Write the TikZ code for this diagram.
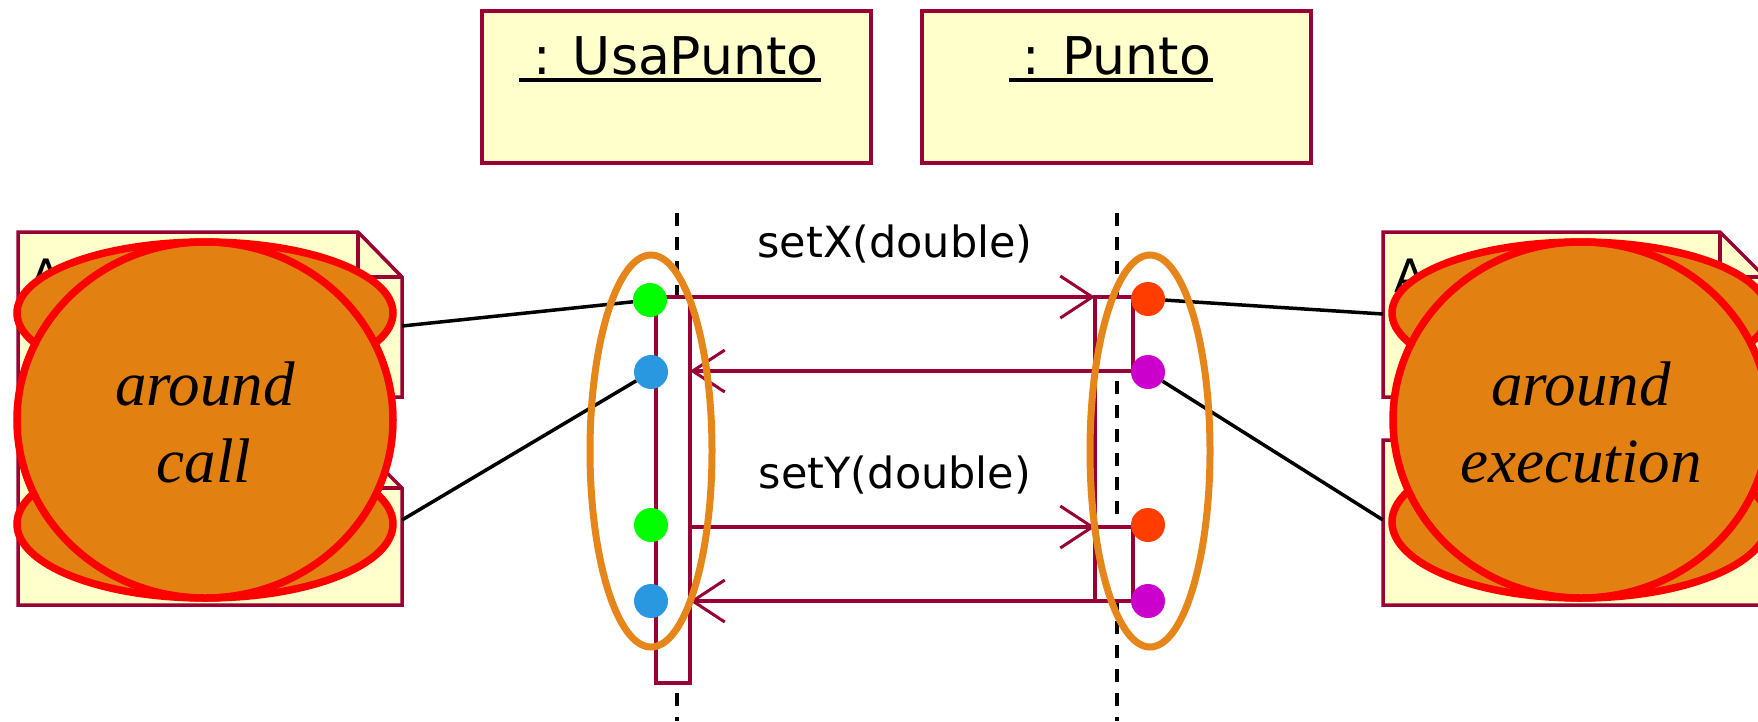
\documentclass[tikz,border=0pt]{standalone}
\usepackage{fontspec}
\setmainfont{Liberation Serif}
\newfontfamily\umlfont{DejaVu Sans}
\usetikzlibrary{arrows.meta,shapes.geometric}
\definecolor{umlred}{HTML}{990033}
\definecolor{noteyel}{HTML}{FFFFCC}
\definecolor{orfill}{HTML}{E38012}
\definecolor{orline}{HTML}{E6861A}
\definecolor{dgreen}{HTML}{00FF00}
\definecolor{dblue}{HTML}{2A98E0}
\definecolor{dred}{HTML}{FF3D00}
\definecolor{dmag}{HTML}{CC00CC}
\begin{document}
\begin{tikzpicture}[x=1pt,y=-1pt,
  objbox/.style={draw=umlred, fill=noteyel, line width=3.5pt, inner sep=0pt, outer sep=0pt, anchor=north west},
  notebox/.style={draw=umlred, fill=noteyel, line width=3.5pt, line join=miter},
  foldline/.style={draw=umlred, line width=3.5pt},
  link/.style={draw=black, line width=3.5pt},
  lifeline/.style={draw=black, line width=4pt, dash pattern=on 13pt off 11pt},
  actbox/.style={draw=umlred, fill=white, line width=3.5pt, inner sep=0pt, outer sep=0pt, anchor=north west},
  msg/.style={draw=umlred, line width=3.5pt, -{Straight Barb[length=32pt,width=42pt,line width=3pt]}},
  objlabel/.style={font=\umlfont\fontsize{52pt}{60pt}\selectfont, inner sep=0pt, anchor=base},
  msglabel/.style={font=\umlfont\fontsize{43pt}{50pt}\selectfont, inner sep=0pt, anchor=base},
  notelabel/.style={font=\umlfont\fontsize{46pt}{50pt}\selectfont, inner sep=0pt, anchor=base west},
  dot/.style={circle, minimum size=34pt, inner sep=0pt, draw=none},
  group/.style={draw=orline, line width=7pt},
  blob/.style={draw=red, fill=orfill, line width=7.5pt},
  blobn/.style={ellipse, draw=red, fill=orfill, line width=7.5pt, inner sep=0pt},
  blobtext/.style={font=\fontsize{63pt}{75pt}\selectfont\itshape, inner sep=0pt, anchor=base}
]
\useasboundingbox (0,0) rectangle (1758,721);

% object boxes
\node[objbox, minimum width=389pt, minimum height=152pt] (usa) at (482,11) {};
\node[objbox, minimum width=389pt, minimum height=152pt] (pun) at (922,11) {};
\node[objlabel] (usalbl) at (676,74) {: UsaPunto};
\node[objlabel] (punlbl) at (1117,74) {: Punto};
\draw[line width=3.5pt] ([xshift=-14pt,yshift=-6pt]usalbl.base west) -- ([xshift=2pt,yshift=-6pt]usalbl.base east);
\draw[line width=3.5pt] ([xshift=-14pt,yshift=-6pt]punlbl.base west) -- ([xshift=2pt,yshift=-6pt]punlbl.base east);

% notes
\draw[notebox] (18,232) -- (358,232) -- (402,277) -- (402,397) -- (18,397) -- cycle;
\draw[foldline] (358,232) -- (358,277) -- (402,277);
\draw[notebox] (18,444) -- (358,444) -- (402,488) -- (402,605) -- (18,605) -- cycle;
\draw[foldline] (358,444) -- (358,488) -- (402,488);
\draw[notebox] (1383,232) -- (1720,232) -- (1765,277) -- (1765,397) -- (1383,397) -- cycle;
\draw[foldline] (1720,232) -- (1720,277) -- (1765,277);
\draw[notebox] (1383,440) -- (1720,440) -- (1765,485) -- (1765,605) -- (1383,605) -- cycle;
\draw[foldline] (1720,440) -- (1720,485) -- (1765,485);
\node[notelabel] (na1) at (30,292) {A};
\node[notelabel] (na3) at (1394,292) {A};
\coordinate (n1p) at (402,326);
\coordinate (n2p) at (402,520);
\coordinate (n3p) at (1383,314);
\coordinate (n4p) at (1383,520);

% lifelines
\coordinate (ll1t) at (677,213);
\coordinate (ll1b) at (677,721);
\coordinate (ll2t) at (1117,213);
\coordinate (ll2b) at (1117,721);
\draw[lifeline] (ll1t) -- (ll1b);
\draw[lifeline] (ll2t) -- (ll2b);

% activations
\node[actbox, minimum width=34pt, minimum height=386pt] (actL) at (656,297) {};
\node[actbox, minimum width=38pt, minimum height=74pt] (actR1) at (1095,297) {};
\node[actbox, minimum width=38pt, minimum height=74pt] (actR2) at (1095,527) {};
\draw[foldline] (actR1.south west) -- (actR2.north west);

% messages
\coordinate (m1s) at (690,297);
\coordinate (m2e) at (690,371);
\coordinate (m3s) at (690,527);
\coordinate (m4e) at (690,601);
\draw[msg] (m1s) -- (actR1.north west);
\draw[msg] (actR1.south east) -- (m2e);
\draw[msg] (m3s) -- (actR2.north west);
\draw[msg] (actR2.south east) -- (m4e);
\node[msglabel] (lx) at (895,257) {setX(double)};
\node[msglabel] (ly) at (895,488) {setY(double)};

% dots
\node[dot, fill=dgreen] (g1) at (650,300) {};
\node[dot, fill=dblue]  (b1) at (651,372) {};
\node[dot, fill=dgreen] (g2) at (651,525) {};
\node[dot, fill=dblue]  (b2) at (651,601) {};
\node[dot, fill=dred]   (r1) at (1148,299) {};
\node[dot, fill=dmag]   (p1) at (1148,372) {};
\node[dot, fill=dred]   (r2) at (1148,525) {};
\node[dot, fill=dmag]   (p2) at (1148,601) {};

% links from notes
\draw[link] (n1p) -- (g1);
\draw[link] (n2p) -- (b1);
\draw[link] (r1) -- (n3p);
\draw[link] (p1) -- (n4p);

% orange groups
\node[ellipse, group, minimum width=122pt, minimum height=392pt] (grpL) at (651,451) {};
\node[ellipse, group, minimum width=120pt, minimum height=392pt] (grpR) at (1150,451) {};

% around call
\draw[blob] (205,313) ellipse [x radius=188, y radius=71];
\draw[blob] (205,524) ellipse [x radius=188, y radius=74];
\node[blobn, minimum width=376pt, minimum height=356pt] (lcirc) at (205,420) {};
\node[blobtext] (lt1) at (205,405) {around};
\node[blobtext] (lt2) at (204,482) {call};

% around execution
\draw[blob] (1580,313) ellipse [x radius=188, y radius=71];
\draw[blob] (1580,522) ellipse [x radius=188, y radius=76];
\node[blobn, minimum width=376pt, minimum height=356pt] (rcirc) at (1581,420) {};
\node[blobtext] (rt1) at (1581,405) {around};
\node[blobtext] (rt2) at (1581,482) {execution};
\end{tikzpicture}
\end{document}
